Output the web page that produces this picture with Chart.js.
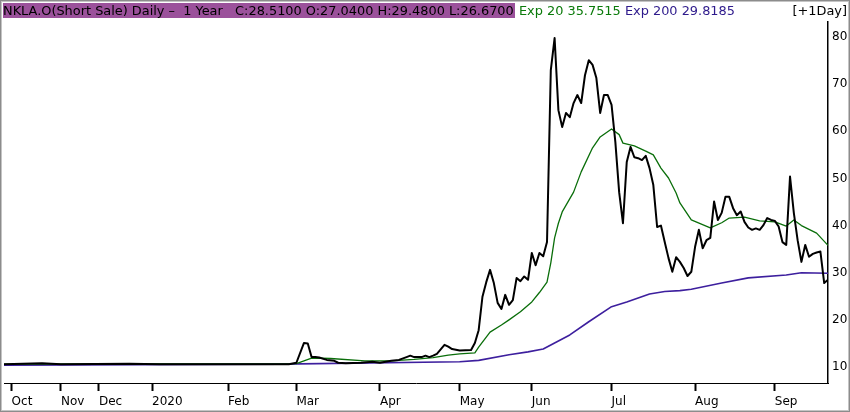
<!DOCTYPE html>
<html>
<head>
<meta charset="utf-8">
<title>NKLA.O Daily - 1 Year</title>
<script src="https://cdn.jsdelivr.net/npm/chart.js"></script>
<style>
  html, body { margin: 0; padding: 0; background: #fff; }
  #wrap { position: relative; width: 850px; height: 412px; overflow: hidden; }
  #head {
    position: absolute; left: 3px; top: 3px; right: 2px; height: 16px;
    font: 12.9px 'DejaVu Sans', sans-serif; line-height: 16px; white-space: pre; color: #000;
  }
  #head .sym { background: #9b519b; padding-right: 1px; }
  #head .e20 { color: #0a7a0a; }
  #head .e200 { color: #2e1a8c; }
  #head .fwd { position: absolute; right: 1px; top: 0; }
  canvas { position: absolute; left: 0; top: 0; }
</style>
</head>
<body>
<div id="wrap">
  <canvas id="chart" width="850" height="412"></canvas>
  <div id="head"><span class="sym">NKLA.O(Short Sale) Daily –  1 Year   C:28.5100 O:27.0400 H:29.4800 L:26.6700</span> <span class="e20">Exp 20 35.7515</span> <span class="e200">Exp 200 29.8185</span><span class="fwd">[+1Day]</span></div>
</div>
<script>
// trading-day number on the x axis, month labels sit on the first day of each month
const monthTicks = [2, 15, 25, 39, 59, 77, 99, 120, 139, 160, 182, 203];
const monthLabels = ['Oct', 'Nov', 'Dec', '2020', 'Feb', 'Mar', 'Apr', 'May', 'Jun', 'Jul', 'Aug', 'Sep'];
const yTicks = [10, 20, 30, 40, 50, 60, 70, 80];

// close price
const closeDay = [0, 10, 15, 33, 41, 60, 75, 77, 79, 80, 81, 82, 83, 85, 87, 88, 90, 94, 97, 99,
  102, 104, 106, 107, 108, 110, 111, 112, 113, 114, 116, 117, 118, 120, 123, 124, 125, 126, 127, 128,
  129, 130, 131, 132, 133, 134, 135, 136, 137, 138, 139, 140, 141, 142, 143, 144, 145, 146, 147, 148,
  149, 150, 151, 152, 153, 154, 155, 156, 157, 158, 159, 160, 161, 162, 163, 164, 165, 166, 167, 168,
  169, 170, 171, 172, 173, 174, 175, 176, 177, 178, 179, 180, 181, 182, 183, 184, 185, 186, 187, 188,
  189, 190, 191, 192, 193, 194, 195, 196, 197, 198, 199, 200, 201, 202, 203, 204, 205, 206, 207, 208,
  209, 210, 211, 212, 213, 214, 215, 216, 217];
const closeVal = [10.6, 10.8, 10.6, 10.7, 10.6, 10.6, 10.6, 10.9, 15.1, 15.0, 12.1, 12.1, 12.0, 11.5, 11.3, 10.9, 10.8, 10.9, 11.1, 10.9,
  11.3, 11.5, 12.1, 12.4, 12.1, 12.1, 12.4, 12.1, 12.4, 12.8, 14.7, 14.3, 13.8, 13.5, 13.6, 15.1, 17.8, 24.9, 28.0, 30.6,
  27.8, 23.6, 22.3, 25.3, 23.2, 24.2, 28.9, 28.2, 29.2, 28.5, 34.2, 31.6, 34.2, 33.5, 36.5, 73.0, 79.8, 64.5, 60.9, 63.9,
  63.0, 66.0, 67.7, 66.0, 71.9, 75.1, 74.1, 71.3, 63.9, 67.7, 67.7, 65.6, 57.7, 47.1, 40.5, 53.5, 56.7, 54.5, 54.3, 53.9,
  54.8, 52.2, 48.6, 39.7, 40.0, 36.5, 33.1, 30.2, 33.3, 32.3, 31.0, 29.3, 30.2, 35.5, 39.1, 35.2, 36.9, 37.4, 45.1, 41.2,
  42.7, 46.1, 46.1, 43.7, 42.2, 43.0, 40.8, 39.6, 39.1, 39.4, 39.1, 40.1, 41.6, 41.2, 41.0, 39.8, 36.5, 35.9, 50.4, 42.7,
  36.9, 32.3, 35.9, 33.4, 34.0, 34.3, 34.5, 27.8, 28.5];

// Exp 20
const ema20Day = [0, 77, 81, 86, 95, 102, 108, 113, 117, 120, 124, 125, 128, 131, 133, 136, 139, 141, 143, 144,
  145, 146, 147, 150, 152, 155, 157, 160, 162, 163, 166, 169, 171, 173, 175, 177, 178, 181, 186, 189,
  191, 195, 199, 203, 206, 208, 210, 214, 217];
const ema20Val = [10.6, 10.7, 11.9, 11.8, 11.3, 11.3, 11.6, 12.0, 12.5, 12.8, 13.0, 14.2, 17.4, 18.9, 20.0, 21.7, 23.8, 25.8, 28.0, 32.1,
  37.4, 40.5, 42.9, 47.1, 51.4, 56.5, 58.8, 60.5, 59.3, 57.5, 56.9, 55.8, 55.0, 52.2, 50.1, 46.9, 44.8, 41.2, 39.5, 40.6,
  41.6, 41.8, 41.0, 40.8, 39.9, 41.2, 40.0, 38.4, 35.8];

// Exp 200
const ema200Day = [0, 73, 120, 125, 133, 138, 142, 145, 149, 154, 160, 164, 170, 174, 178, 181, 189, 196, 206, 210, 217];
const ema200Val = [10.4, 10.6, 11.1, 11.4, 12.6, 13.2, 13.8, 15.1, 16.8, 19.6, 22.8, 23.8, 25.5, 26.0, 26.2, 26.5, 27.8, 28.9, 29.5, 30.0, 29.9];

const toPoints = (days, vals) => days.map((d, i) => ({ x: d, y: vals[i] }));

// grey frame around the whole picture
const framePlugin = {
  id: 'frame',
  beforeDraw(chart) {
    const ctx = chart.ctx;
    ctx.save();
    ctx.fillStyle = '#fff';
    ctx.fillRect(0, 0, chart.width, chart.height);
    ctx.restore();
  },
  afterDraw(chart) {
    const ctx = chart.ctx;
    ctx.save();
    ctx.lineWidth = 1;
    ctx.strokeStyle = '#8c8c8c';
    ctx.strokeRect(0.5, 0.5, chart.width - 1, chart.height - 1);
    ctx.strokeStyle = '#c4c4c4';
    ctx.strokeRect(1.5, 1.5, chart.width - 3, chart.height - 3);
    ctx.restore();
  }
};

Chart.defaults.font.family = "'DejaVu Sans', sans-serif";
Chart.defaults.font.size = 12;
Chart.defaults.color = '#000';

new Chart(document.getElementById('chart'), {
  type: 'line',
  data: {
    datasets: [
      { label: 'Close', data: toPoints(closeDay, closeVal), borderColor: '#000', borderWidth: 2 },
      { label: 'Exp 20', data: toPoints(ema20Day, ema20Val), borderColor: '#0a6e0a', borderWidth: 1.3 },
      { label: 'Exp 200', data: toPoints(ema200Day, ema200Val), borderColor: '#3d1f9e', borderWidth: 1.6 }
    ]
  },
  options: {
    responsive: false,
    animation: false,
    elements: { point: { radius: 0 }, line: { tension: 0, borderJoinStyle: 'round' } },
    layout: { padding: { left: 4, top: 22, right: 0, bottom: 0 } },
    plugins: { legend: { display: false }, tooltip: { enabled: false } },
    scales: {
      x: {
        type: 'linear', min: 0, max: 217, position: 'bottom',
        afterBuildTicks: (s) => { s.ticks = monthTicks.map((v) => ({ value: v })); },
        afterFit: (s) => { s.height = 29; },
        grid: { drawOnChartArea: false, drawTicks: true, tickLength: 8, tickWidth: 2, tickColor: '#000' },
        border: { display: true, color: '#000', width: 1 },
        ticks: {
          align: 'start', padding: 4, maxRotation: 0, autoSkip: false,
          callback: (v) => monthLabels[monthTicks.indexOf(v)]
        }
      },
      y: {
        position: 'right', min: 6.6, max: 83.2,
        afterBuildTicks: (s) => { s.ticks = yTicks.map((v) => ({ value: v })); },
        afterFit: (s) => { s.width = 22; },
        grid: { display: false, drawTicks: false },
        border: { display: true, color: '#000', width: 1.5 },
        ticks: { padding: 4, callback: (v) => String(v) }
      }
    }
  },
  plugins: [framePlugin]
});
</script>
</body>
</html>
